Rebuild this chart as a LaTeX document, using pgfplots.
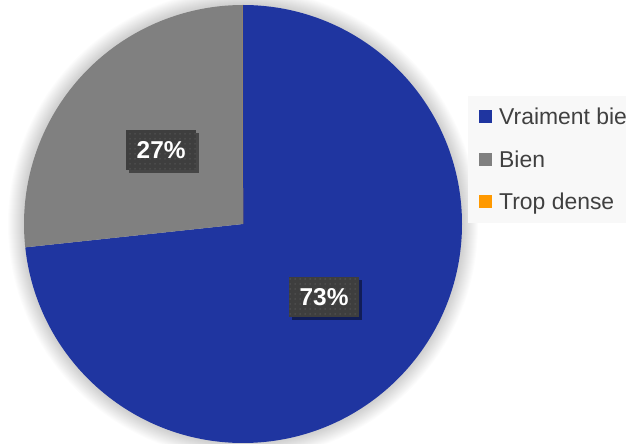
\documentclass[border=0pt]{standalone}
\usepackage{pgfplots}
\pgfplotsset{compat=1.18}
\usepackage{pgfplotstable}
\usepackage{fontspec}
\setmainfont{Liberation Sans}
\usetikzlibrary{patterns.meta,shadows}
\definecolor{cBlue}{HTML}{1F35A0}
\definecolor{cGray}{HTML}{808080}
\definecolor{cOrange}{HTML}{FF9900}
\definecolor{cText}{HTML}{404040}
\definecolor{cBox}{HTML}{3E3E3E}
\definecolor{cDot}{HTML}{5A5A5A}
\definecolor{cLeg}{HTML}{F8F8F8}

\pgfplotstableread[col sep=comma]{
label,value
Vraiment bien,73.3
Bien,26.7
Trop dense,0
}\piedata

\pgfplotstablegetelem{0}{value}\of\piedata \let\vA\pgfplotsretval
\pgfplotstablegetelem{1}{value}\of\piedata \let\vB\pgfplotsretval
\pgfplotstablegetelem{2}{value}\of\piedata \let\vC\pgfplotsretval
\pgfmathsetmacro\total{\vA+\vB+\vC}
\pgfmathsetmacro\fA{\vA/\total}
\pgfmathsetmacro\fB{\vB/\total}
\pgfmathsetmacro\fC{\vC/\total}
\pgfmathsetmacro\aA{90}
\pgfmathsetmacro\aB{90-360*\fA}
\pgfmathsetmacro\aC{\aB-360*\fB}
\pgfmathsetmacro\aD{\aC-360*\fC}
\pgfmathsetmacro\mA{(\aA+\aB)/2}
\pgfmathsetmacro\mB{(\aB+\aC)/2}
\pgfmathtruncatemacro\pA{round(100*\fA)}
\pgfmathtruncatemacro\pB{round(100*\fB)}

\tikzset{lbox/.style={fill=cBox,
  postaction={pattern={Dots[distance=5bp,radius=0.75bp]},pattern color=cDot},
  drop shadow={shadow xshift=2.5bp,shadow yshift=-3bp,opacity=0.45,fill=black},
  minimum width=70bp,minimum height=40bp,inner sep=0pt,
  text=white,font=\fontsize{24.5}{28}\selectfont\bfseries}}

\begin{document}
\begin{tikzpicture}
\useasboundingbox (0,0) rectangle (626bp,444bp);
\clip (0,0) rectangle (626bp,444bp);
% soft glow around the pie
\foreach \k in {1,...,16}{
  \fill[black,opacity=0.013] (243bp,220bp) circle[radius={(219+\k)*1bp}];
}
\begin{axis}[
  at={(243bp,220bp)}, anchor=origin,
  x=219bp, y=219bp,
  xmin=-1.2, xmax=1.2, ymin=-1.2, ymax=1.2,
  hide axis, clip=false]
  \fill[cBlue] (axis cs:0,0) -- ++(\aA:219bp) arc[start angle=\aA,end angle=\aB,radius=219bp] -- cycle;
  \fill[cGray] (axis cs:0,0) -- ++(\aB:219bp) arc[start angle=\aB,end angle=\aC,radius=219bp] -- cycle;
  \fill[cOrange] (axis cs:0,0) -- ++(\aC:219bp) arc[start angle=\aC,end angle=\aD,radius=219bp] -- cycle;
  \path (axis cs:0,0) ++(\mB:110bp) node[lbox] {\pB\%};
  \path (axis cs:0,0) ++(\mA:109bp) node[lbox] {\pA\%};
\end{axis}
% legend
\fill[cLeg] (468bp,221bp) rectangle (640bp,348bp);
\begin{scope}[every node/.style={anchor=base west,inner sep=0pt,text=cText,font=\fontsize{23}{27}\selectfont}]
\fill[cBlue] (479bp,320.5bp) rectangle (492bp,333.5bp);
\node at (499bp,319bp) {Vraiment bien};
\fill[cGray] (479bp,277.5bp) rectangle (492bp,290.5bp);
\node at (499bp,276.5bp) {Bien};
\fill[cOrange] (479bp,235.5bp) rectangle (492bp,248.5bp);
\node at (499bp,234.5bp) {Trop dense};
\end{scope}
\end{tikzpicture}
\end{document}
